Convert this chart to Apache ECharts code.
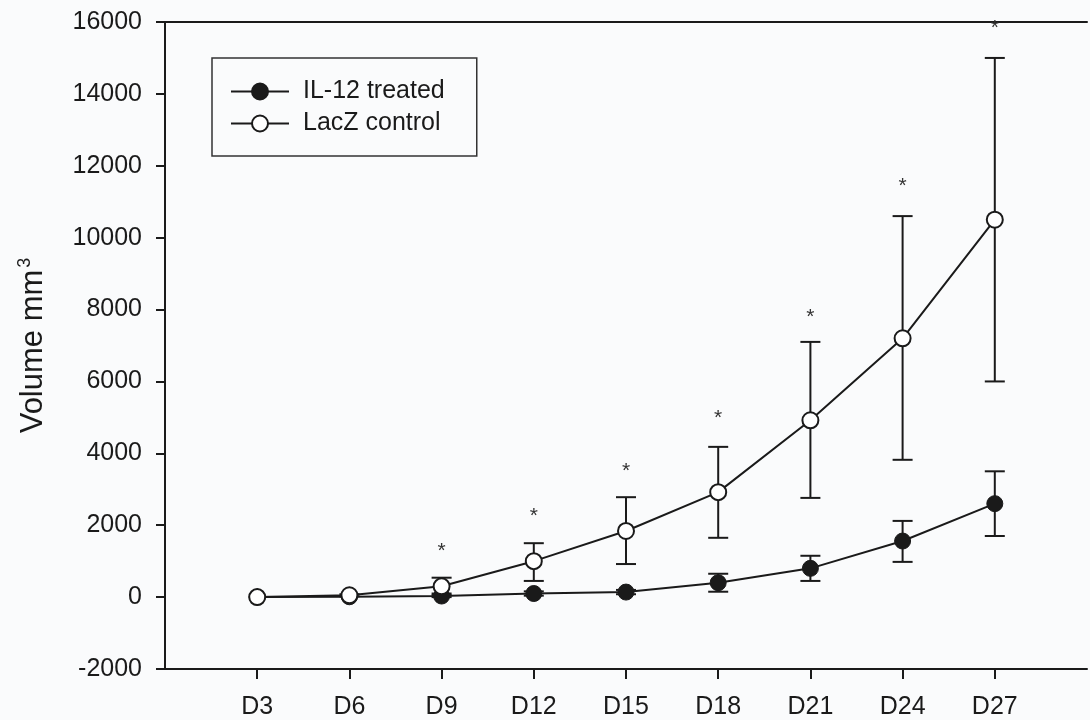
<!DOCTYPE html>
<html>
<head>
<meta charset="utf-8">
<script src="https://cdn.jsdelivr.net/npm/echarts@6/dist/echarts.min.js"></script>
<style>
html,body{margin:0;padding:0;background:#fafbfc;}
#chart{width:1090px;height:720px;}
</style>
</head>
<body>
<div id="chart"></div>
<script>
// ---- data ----
const categories = ['D3','D6','D9','D12','D15','D18','D21','D24','D27'];
const il12Mean  = [0, 10, 30, 100, 140, 400, 800, 1560, 2600];
const il12Low   = [0, 0, 0, 40, 80, 150, 450, 980, 1700];
const il12High  = [0, 20, 60, 160, 200, 650, 1150, 2120, 3500];
const laczMean  = [0, 50, 300, 1000, 1840, 2920, 4920, 7200, 10500];
const laczLow   = [0, 20, 100, 450, 920, 1650, 2760, 3820, 6000];
const laczHigh  = [0, 80, 540, 1500, 2780, 4180, 7100, 10600, 15000];
const starCats  = ['D9','D12','D15','D18','D21','D24','D27'];
const starVals  = [1420, 2390, 3640, 5110, 7940, 11560, 15970];
const yTicks = {min: -2000, max: 16000, interval: 2000};

const FONT = "'Liberation Sans', Arial, sans-serif";
const INK = '#1a1a1a';
const axisCats = [''].concat(categories, ['']);

function errData(low, high) {
  return categories.map((c, i) => [c, low[i], high[i]]);
}
function errRender(params, api) {
  const x = api.value(0);
  const lo = api.coord([x, api.value(1)]);
  const hi = api.coord([x, api.value(2)]);
  const w = 10;
  if (Math.abs(lo[1] - hi[1]) < 1) return null;
  const st = {stroke: INK, lineWidth: 2};
  return {type: 'group', children: [
    {type: 'line', shape: {x1: lo[0], y1: lo[1], x2: hi[0], y2: hi[1]}, style: st},
    {type: 'line', shape: {x1: lo[0]-w, y1: lo[1], x2: lo[0]+w, y2: lo[1]}, style: st},
    {type: 'line', shape: {x1: hi[0]-w, y1: hi[1], x2: hi[0]+w, y2: hi[1]}, style: st}
  ]};
}

const chart = echarts.init(document.getElementById('chart'), null, {renderer: 'canvas'});
chart.setOption({
  backgroundColor: '#fafbfc',
  animation: false,
  textStyle: {fontFamily: FONT},
  grid: {left: 165, right: -5, top: 22, bottom: 49, containLabel: false},
  legend: {
    left: 212, top: 58, orient: 'vertical',
    padding: [21, 32, 20, 18],
    itemGap: 7, itemWidth: 58, itemHeight: 20,
    borderColor: '#333', borderWidth: 1.5,
    textStyle: {fontFamily: FONT, fontSize: 25, color: INK, padding: [0, 0, 0, 9]},
    data: ['IL-12 treated', 'LacZ control']
  },
  xAxis: [{
    type: 'category', data: axisCats, boundaryGap: false,
    axisLine: {onZero: false, lineStyle: {color: INK, width: 2}},
    axisTick: {length: 10, lineStyle: {color: INK, width: 2}, interval: (i, v) => v !== ''},
    axisLabel: {interval: 0, margin: 26, fontSize: 25, color: INK, fontFamily: FONT},
    splitLine: {show: false}
  }, {
    type: 'category', data: axisCats, boundaryGap: false, position: 'top',
    axisLine: {onZero: false, lineStyle: {color: INK, width: 2}},
    axisTick: {show: false}, axisLabel: {show: false}, splitLine: {show: false}
  }],
  yAxis: {
    type: 'value', min: yTicks.min, max: yTicks.max, interval: yTicks.interval,
    name: '{a|Volume mm}{b|3}', nameLocation: 'middle', nameGap: 115, nameRotate: 90,
    nameTextStyle: {rich: {
      a: {fontSize: 31, color: INK, fontFamily: FONT},
      b: {fontSize: 18, color: INK, fontFamily: FONT, verticalAlign: 'top', padding: [0, 0, 16, 2]}
    }},
    axisLine: {show: true, lineStyle: {color: INK, width: 2}},
    axisTick: {show: true, length: 9, lineStyle: {color: INK, width: 2}},
    axisLabel: {margin: 23, fontSize: 25, color: INK, fontFamily: FONT, formatter: v => String(v)},
    splitLine: {show: false}
  },
  series: [
    {type: 'custom', name: 'errIL12', renderItem: errRender, data: errData(il12Low, il12High), z: 1, silent: true},
    {type: 'custom', name: 'errLacZ', renderItem: errRender, data: errData(laczLow, laczHigh), z: 1, silent: true},
    {
      type: 'line', name: 'IL-12 treated', z: 3,
      data: categories.map((c, i) => [c, il12Mean[i]]),
      symbol: 'circle', symbolSize: 16, showAllSymbol: true,
      lineStyle: {color: INK, width: 2},
      itemStyle: {color: INK, borderColor: INK, borderWidth: 1}
    },
    {
      type: 'line', name: 'LacZ control', z: 4,
      data: categories.map((c, i) => [c, laczMean[i]]),
      symbol: 'circle', symbolSize: 16, showAllSymbol: true,
      lineStyle: {color: INK, width: 2},
      itemStyle: {color: '#ffffff', borderColor: INK, borderWidth: 2}
    },
    {
      type: 'custom', name: 'stars', z: 5, silent: true,
      data: starCats.map((c, i) => [c, starVals[i]]),
      renderItem: (params, api) => {
        const p = api.coord([api.value(0), api.value(1)]);
        return {type: 'text', style: {text: '*', x: p[0], y: p[1] + 5, fill: '#333',
          font: '21px ' + FONT, textAlign: 'center', textVerticalAlign: 'middle'}};
      }
    }
  ]
});
</script>
</body>
</html>
